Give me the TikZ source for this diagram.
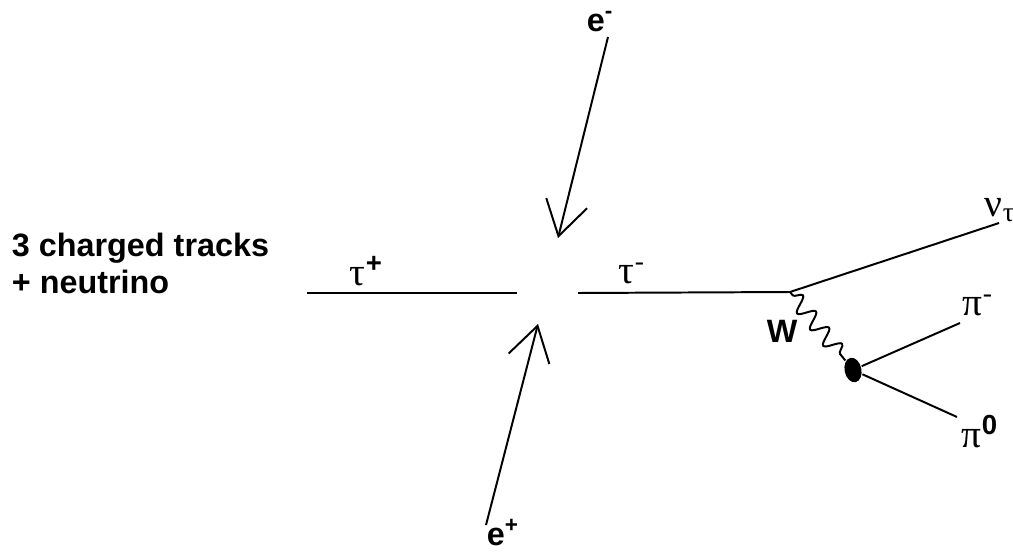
\documentclass[tikz,border=0pt]{standalone}
\usepackage{fontspec}
\setsansfont{Liberation Sans}
\newfontfamily\grk{Liberation Serif}
\usetikzlibrary{positioning,arrows.meta,decorations.pathmorphing,shapes.geometric}

\begin{document}
\begin{tikzpicture}[x=0.025cm, y=-0.025cm, line width=1.4pt,
  >={Straight Barb[length=0.85cm, width=1.05cm, line width=1.4pt]},
  lbl/.style={font=\fontsize{28}{32}\grk, anchor=base west, inner sep=0pt},
  blbl/.style={font=\fontsize{23}{27}\selectfont\sffamily\bfseries, anchor=base west, inner sep=0pt},
  wboson/.style={decorate, decoration={snake, amplitude=0.2cm, segment length=0.52cm, pre length=3pt, post length=3pt}}]
\useasboundingbox (0,0) rectangle (1013,552);

% ---------------- beams ----------------
\coordinate (emstart) at (608, 37);
\coordinate (emtip) at (558, 238);
\coordinate (epstart) at (486, 525);
\coordinate (eptip) at (538, 324);
\node[blbl] (em) at (586, 31) {e\textsuperscript{-}};
\node[blbl] (ep) at (486, 545) {e\textsuperscript{+}};
\draw[->] (emstart) -- (emtip);
\draw[->] (epstart) -- (eptip);

% ---------------- tau pair ----------------
\coordinate (tpleft) at (307, 293);
\coordinate (tpright) at (517, 293);
\coordinate (tmleft) at (578, 293);
\coordinate (taudecay) at (790, 292);
\draw (tpleft) -- (tpright);
\draw (tmleft) -- (taudecay);
\node[lbl] (tp) at (349, 285) {τ\textsuperscript{\sffamily\bfseries +}};
\node[lbl] (tm) at (618, 283) {τ\textsuperscript{-}};

\node[blbl, align=left, font=\fontsize{23}{26.3}\selectfont\sffamily\bfseries]
  (tracks) at (11, 293) {3 charged tracks\\+ neutrino};

% ---------------- tau decay ----------------
\coordinate (nuend) at (999, 223);
\coordinate (pimend) at (960, 323);
\coordinate (pizend) at (957, 417);
\node[ellipse, fill=black, minimum width=0.42cm, minimum height=0.62cm, inner sep=0pt, rotate=12] (blob) at (853, 370) {};
\draw (taudecay) -- (nuend);
\draw[wboson] (taudecay) -- (blob);
\draw (blob) -- (pimend);
\draw (blob) -- (pizend);
\node[lbl] (nu) at (984, 216) {ν\textsubscript{τ}};
\node[lbl] (pim) at (962, 315) {π\textsuperscript{-}};
\node[lbl] (piz) at (961, 447) {π\textsuperscript{\sffamily\bfseries 0}};
\node[blbl] (w) at (766, 342) {W};

\end{tikzpicture}
\end{document}
